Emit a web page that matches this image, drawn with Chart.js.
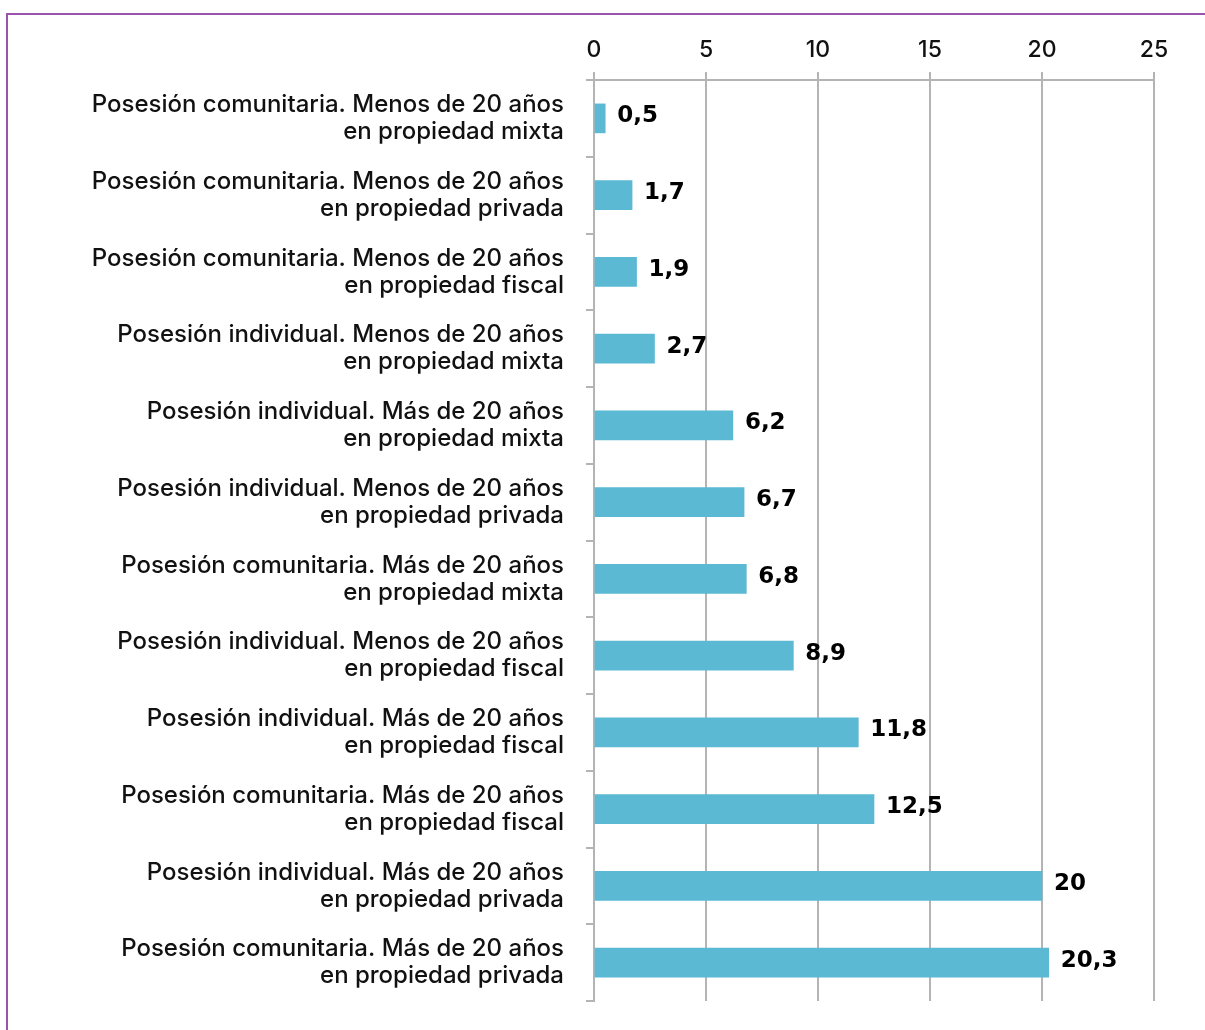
<!DOCTYPE html>
<html>
<head>
<meta charset="utf-8">
<script src="https://cdn.jsdelivr.net/npm/chart.js@4/dist/chart.umd.min.js"></script>
<style>
  body { margin: 0; background: #fff; }
  #wrap { position: relative; width: 1205px; height: 1030px; }
  #frame {
    position: absolute; left: 6px; top: 13px; right: 0; bottom: 0;
    border-top: 2px solid #9b54ad; border-left: 2px solid #9b54ad;
    pointer-events: none;
  }
  canvas { position: absolute; left: 0; top: 0; }
</style>
</head>
<body>
<div id="wrap">
  <canvas id="chart" width="1205" height="1030"></canvas>
  <div id="frame"></div>
</div>
<script>
const categories = [
  ['Posesión comunitaria. Menos de 20 años', 'en propiedad mixta'],
  ['Posesión comunitaria. Menos de 20 años', 'en propiedad privada'],
  ['Posesión comunitaria. Menos de 20 años', 'en propiedad fiscal'],
  ['Posesión individual. Menos de 20 años', 'en propiedad mixta'],
  ['Posesión individual. Más de 20 años', 'en propiedad mixta'],
  ['Posesión individual. Menos de 20 años', 'en propiedad privada'],
  ['Posesión comunitaria. Más de 20 años', 'en propiedad mixta'],
  ['Posesión individual. Menos de 20 años', 'en propiedad fiscal'],
  ['Posesión individual. Más de 20 años', 'en propiedad fiscal'],
  ['Posesión comunitaria. Más de 20 años', 'en propiedad fiscal'],
  ['Posesión individual. Más de 20 años', 'en propiedad privada'],
  ['Posesión comunitaria. Más de 20 años', 'en propiedad privada']
];
const values = [0.5, 1.7, 1.9, 2.7, 6.2, 6.7, 6.8, 8.9, 11.8, 12.5, 20, 20.3];
const axisTicks = [0, 5, 10, 15, 20, 25];

const barColor = '#5bb9d4';
const gridColor = '#b4b4b4';

// value labels at the end of each bar, with a decimal comma
const valueLabels = {
  id: 'valueLabels',
  afterDatasetsDraw(chart) {
    const c = chart.ctx;
    const meta = chart.getDatasetMeta(0);
    c.save();
    c.font = 'bold 23px "DejaVu Sans"';
    c.fillStyle = '#000';
    c.textBaseline = 'middle';
    c.textAlign = 'left';
    meta.data.forEach(function (bar, i) {
      c.fillText(String(values[i]).replace('.', ','), bar.x + 12, bar.y - 2);
    });
    c.restore();
  }
};

new Chart(document.getElementById('chart'), {
  type: 'bar',
  data: {
    labels: categories,
    datasets: [{
      data: values,
      backgroundColor: barColor,
      barThickness: 29
    }]
  },
  options: {
    indexAxis: 'y',
    responsive: false,
    animation: false,
    devicePixelRatio: 1,
    layout: { padding: { left: 0, right: 51, top: 0, bottom: 29 } },
    plugins: { legend: { display: false }, tooltip: { enabled: false } },
    scales: {
      x: {
        position: 'top',
        min: 0,
        max: 25,
        afterBuildTicks: function (axis) {
          axis.ticks = axisTicks.map(function (v) { return { value: v }; });
        },
        afterFit: function (axis) { axis.height = 80; },
        grid: { color: gridColor, lineWidth: 2, tickLength: 8 },
        border: { color: gridColor, width: 2 },
        ticks: {
          color: '#111',
          padding: 8,
          font: { family: 'Inter, "Liberation Sans", sans-serif', size: 23, weight: 500 }
        }
      },
      y: {
        afterFit: function (axis) {
          axis.width = 594;
          axis.paddingTop = 0;
          axis.paddingBottom = 0;
        },
        grid: { drawOnChartArea: false, color: gridColor, lineWidth: 2, tickLength: 8 },
        border: { color: gridColor, width: 2 },
        ticks: {
          color: '#111',
          padding: 22,
          font: { family: 'Inter, "Liberation Sans", sans-serif', size: 24, weight: 500, lineHeight: 1.13 }
        }
      }
    }
  },
  plugins: [valueLabels]
});
</script>
</body>
</html>
